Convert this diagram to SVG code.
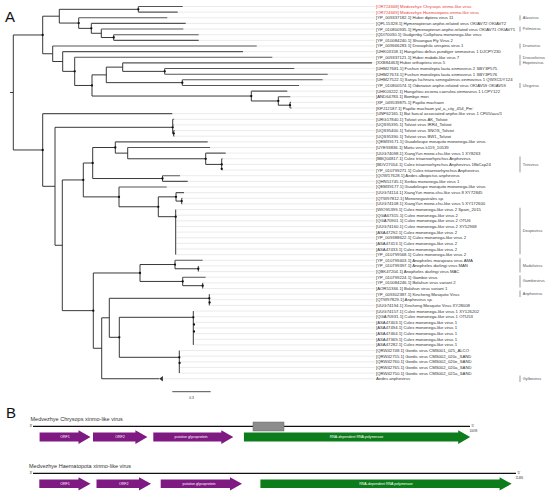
<svg xmlns="http://www.w3.org/2000/svg" width="550" height="492" viewBox="0 0 550 492">
<style>
.int{fill:none;stroke:#222;stroke-width:0.9}
.leaf{fill:none;stroke:#555;stroke-width:1.1}
.lead{fill:none;stroke:#e2e2e2;stroke-width:0.7}
.lb{font-family:"Liberation Sans",Arial,sans-serif;font-size:4.25px;fill:#333}
.red{fill:#e8413c}
.grp{font-family:"Liberation Sans",Arial,sans-serif;font-size:3.9px;fill:#555}
.bar{stroke:#999;stroke-width:1}
.big{font-family:"Liberation Sans",Arial,sans-serif;font-size:15px;fill:#111}
.tt{font-family:"Liberation Sans",Arial,sans-serif;font-size:5.5px;fill:#333}
.sm{font-family:"Liberation Sans",Arial,sans-serif;font-size:3.8px;fill:#333}
.xs{font-family:"Liberation Sans",Arial,sans-serif;font-size:2.8px;fill:#333}
.al{font-family:"Liberation Sans",Arial,sans-serif;font-size:3.6px;fill:#fff;text-anchor:middle}
.pu{fill:#7e1a82}
.gr{fill:#0c7d1a}
</style>
<defs><circle id="d" r="1.15" fill="#111"/></defs>

<text class="big" x="5" y="21.7">A</text>

<g id="connectors">
<path class="lead" d="M182.7,6.5H375M177.7,12.14H375M167.3,17.78H375M185.7,23.42H375M183.3,29.06H375M198.7,34.7H375M198.7,40.34H375M256.7,45.98H375M243,51.62H375M272.3,57.26H375M372,62.9H375M294.3,68.54H375M327.7,74.18H375M322.7,79.82H375M299,85.46H375M287.3,91.1H375M290.3,96.74H375M291,102.38H375M291.5,108.02H375M172.3,113.66H375M174.2,119.3H375M173.8,124.94H375M174.6,130.58H375M174.3,136.22H375M207.7,141.86H375M210,147.5H375M225.7,153.14H375M222.6,158.78H375M222.3,164.42H375M222.5,170.06H375M180,175.7H375M187.7,181.34H375M166.7,186.98H375M184,192.62H375M182.4,198.26H375M182.2,203.9H375M176.4,209.54H375M176.4,215.18H375M176.4,220.82H375M176.4,226.46H375M176.4,232.1H375M176.4,237.74H375M176.4,243.38H375M176.4,249.02H375M176.4,254.66H375M202.7,260.3H375M199,265.94H375M199,271.58H375M205.7,277.22H375M203.3,282.86H375M203.3,288.5H375M210,294.14H375M210,299.78H375M210,305.42H375M194,311.06H375M194,316.7H375M194,322.34H375M194,327.98H375M194,333.62H375M194,339.26H375M194,344.9H375M180,350.54H375M180,356.18H375M180,361.82H375M180,367.46H375M180,373.1H375M162.7,378.74H375"/>
<path class="int" d="M10,92.48H13.3M13.3,34.97V149.98M13.3,34.97H42.7M13.3,149.98H42.7
M42.7,16.2V53.74M42.7,16.2H59.3M42.7,53.74H52.7
M59.3,9.32V23.07M59.3,9.32H138.3M59.3,23.07H78.7
M138.3,6.5V12.14
M78.7,17.78V28.36M78.7,28.36H91.3
M91.3,23.42V33.29M91.3,33.29H101.3
M101.3,29.06V37.52M101.3,37.52H113.7
M113.7,34.7V40.34
M52.7,45.98V61.5M52.7,61.5H62.7
M62.7,51.62V71.37M62.7,71.37H74.7
M74.7,57.26V85.47M74.7,85.47H92
M92,74.89V96.04M92,74.89H106.3M92,96.04H251.3
M106.3,67.13V82.64M106.3,67.13H122.7M106.3,82.64H182.3
M122.7,62.9V71.36M122.7,71.36H164.7
M164.7,68.54V74.18M182.3,79.82V85.46
M251.3,91.1V100.97M251.3,100.97H278.3
M278.3,96.74V105.2M278.3,105.2H290M290,102.38V108.02
M42.7,113.66V186.3M42.7,186.3H55
M55,127.3V245.29M55,127.3H172.7M55,245.29H62.3
M172.7,119.3V133.4M172.7,133.4H173.7M173.7,130.58V136.22
M62.3,179.95V310.63M62.3,179.95H83.3M62.3,310.63H93.3
M83.3,163.01V196.88M83.3,163.01H92.7M83.3,196.88H119
M92.7,147.5V178.52M92.7,147.5H115.3M92.7,178.52H162.5
M115.3,141.86V153.14M115.3,153.14H127.7
M127.7,147.5V158.78M127.7,158.78H205.7
M205.7,153.14V164.42M205.7,164.42H221.7M221.7,158.78V170.06
M162.5,175.7V181.34
M119,186.98V206.78M119,206.78H158.3
M158.3,196.85V216.7M158.3,196.85H176M158.3,216.7H175.7
M176,192.62V201.08M176,201.08H181.7M181.7,198.26V203.9
M175.7,209.54V254.66
M93.3,272.99V348.27M93.3,272.99H140M93.3,348.27H101.7
M140,264.53V281.45M140,264.53H175M140,281.45H182.7
M175,260.3V268.76M175,268.76H198.3M198.3,265.94V271.58
M182.7,277.22V285.68M182.7,285.68H202.7M202.7,282.86V288.5
M101.7,317.8V378.74M101.7,317.8H109.3M101.7,378.74H159.3
M109.3,298.3V337.3M109.3,298.3H209.3M109.3,337.3H119.3
M209.3,294.14V305.42
M119.3,317.3V357.3M119.3,317.3H193.3M119.3,357.3H179.3
M193.3,311.06V344.9M179.3,350.54V373.1"/>
<path class="leaf" d="M138.3,6.5H182.7M138.3,12.14H177.7M78.7,17.78H167.3M91.3,23.42H185.7M101.3,29.06H183.3M113.7,34.7H198.7M113.7,40.34H198.7M52.7,45.98H256.7M62.7,51.62H243M74.7,57.26H272.3M122.7,62.9H372M164.7,68.54H294.3M164.7,74.18H327.7M182.3,79.82H322.7M182.3,85.46H299M251.3,91.1H287.3M278.3,96.74H290.3M290,102.38H291M290,108.02H291.5M42.7,113.66H172.3M172.7,119.3H174.2M172.7,124.94H173.8M173.7,130.58H174.6M173.7,136.22H174.3M115.3,141.86H207.7M127.7,147.5H210M205.7,153.14H225.7M221.7,158.78H222.6M221.7,164.42H222.3M221.7,170.06H222.5M162.5,175.7H180M162.5,181.34H187.7M119,186.98H166.7M176,192.62H184M181.7,198.26H182.4M181.7,203.9H182.2M175,260.3H202.7M182.7,277.22H205.7"/>
<polygon points="159.3,378.74 162.9,375.9 162.9,381.6" fill="#333"/>
<g>
<use href="#d" x="138.3" y="9.32"/><use href="#d" x="78.7" y="23.07"/><use href="#d" x="91.3" y="28.36"/><use href="#d" x="113.7" y="37.52"/>
<use href="#d" x="42.7" y="34.97"/><use href="#d" x="74.7" y="71.37"/><use href="#d" x="92" y="85.47"/><use href="#d" x="164.7" y="71.36"/>
<use href="#d" x="182.3" y="82.64"/><use href="#d" x="251.3" y="96.04"/><use href="#d" x="278.3" y="100.97"/><use href="#d" x="290" y="105.2"/>
<use href="#d" x="42.7" y="149.98"/><use href="#d" x="172.7" y="127.3"/><use href="#d" x="173.7" y="133.4"/>
<use href="#d" x="92.7" y="163.01"/><use href="#d" x="115.3" y="147.5"/><use href="#d" x="205.7" y="158.78"/><use href="#d" x="221.7" y="164.42"/><use href="#d" x="221.7" y="168.8"/>
<use href="#d" x="162.5" y="178.52"/><use href="#d" x="83.3" y="179.95"/><use href="#d" x="119" y="196.88"/><use href="#d" x="158.3" y="206.78"/>
<use href="#d" x="176" y="196.85"/><use href="#d" x="181.7" y="201.08"/><use href="#d" x="175.7" y="216.7"/>
<use href="#d" x="140" y="272.99"/><use href="#d" x="175" y="264.53"/><use href="#d" x="198.3" y="268.76"/><use href="#d" x="182.7" y="281.45"/><use href="#d" x="202.7" y="285.68"/>
<use href="#d" x="93.3" y="310.63"/><use href="#d" x="209.3" y="298.3"/><use href="#d" x="209.6" y="302.5"/><use href="#d" x="119.3" y="337.3"/>
<use href="#d" x="193.3" y="317.3"/><use href="#d" x="194" y="324.5"/><use href="#d" x="194" y="331.5"/><use href="#d" x="179.3" y="357.3"/><use href="#d" x="179.6" y="363"/>
</g>
<path d="M172.3,391.7H210.7" stroke="#222" stroke-width="0.8"/>
<text class="xs" x="191.5" y="399" text-anchor="middle" style="font-size:3.4px">0.3</text>
</g>

<g id="labels">
<text id="t1" class="lb red" x="376" y="8">[OR724668] Medvezhye Chrysops xinmo-like virus</text>
<text id="t2" class="lb red" x="376" y="13.64">[OR724669] Medvezhye Haematopota xinmo-like virus</text>
<text id="t3" class="lb" x="376" y="19.28">[YP_009337182.1] Hubei diptera virus 11</text>
<text id="t4" class="lb" x="376" y="24.92">[QPL15328.1] Hymenopteran anphe-related virus OKIAV72 OKIAV72</text>
<text id="t5" class="lb" x="376" y="30.56">[YP_010800935.1] Hymenopteran anphe-related virus OKIAV71 OKIAV71</text>
<text id="t6" class="lb" x="376" y="36.2">[QDI70030.1] Gudgenby Calliphora mononega-like virus</text>
<text id="t7" class="lb" x="376" y="41.84">[YP_010084240.1] Shuangao Fly Virus 2</text>
<text id="t8" class="lb" x="376" y="47.48">[YP_009666283.1] Drosophila unispina virus 1</text>
<text id="t9" class="lb" x="376" y="53.12">[UHK03158.1] Hangzhou deltus pundiger xinmovirus 1 DJCPY230</text>
<text id="t10" class="lb" x="376" y="58.76">[YP_009337121.1] Hubei mabdo-like virus 7</text>
<text id="t11" class="lb" x="376" y="64.4">[XXB84463] Hubei orthoptera virus 5</text>
<text id="t12" class="lb" x="376" y="70.04">[UHM27681.1] Fushun monolepta lauta xinmovirus 2 SBY3P575</text>
<text id="t13" class="lb" x="376" y="75.68">[UHM27674.1] Fushun monolepta lauta xinmovirus 1 SBY3P576</text>
<text id="t14" class="lb" x="376" y="81.32">[UHM27522.1] Sanya Ischnura senegalensis xinmovirus 1 QWXCDY124</text>
<text id="t15" class="lb" x="376" y="86.96">[YP_010800574.1] Odonatan anphe-related virus OKIAV59 OKIAV59</text>
<text id="t16" class="lb" x="376" y="92.6">[UHK03222.1] Hangzhou zicrona caerulea xinmovirus 1 LCPY122</text>
<text id="t17" class="lb" x="376" y="98.24">[AND64783.1] Bombyx mori</text>
<text id="t18" class="lb" x="376" y="103.88">[XP_049539875.1] Papilio machaon</text>
<text id="t19" class="lb" x="376" y="109.52">[KPJ12187.1] Papilio machaon yal_a_city_454_Pm'</text>
<text id="t20" class="lb" x="376" y="115.16">[UNP62165.1] Bat faecal associated anphe-like virus 1 CP05/aus/1</text>
<text id="t21" class="lb" x="376" y="120.8">[URG17840.1] Tolviot virus AK_Tolviot</text>
<text id="t22" class="lb" x="376" y="126.44">[UQS95395.1] Tolviot virus IRR4_Tolviot</text>
<text id="t23" class="lb" x="376" y="132.08">[UQS95400.1] Tolviot virus SNOS_Tolviot</text>
<text id="t24" class="lb" x="376" y="137.72">[UQS95390.1] Tolviot virus BW1_Tolviot</text>
<text id="t25" class="lb" x="376" y="143.36">[QEM39171.1] Guadeloupe mosquito mononega-like virus</text>
<text id="t26" class="lb" x="376" y="149">[UYE93836.1] Mattu virus k119_10539</text>
<text id="t27" class="lb" x="376" y="154.64">[UUG74098.1] XiangYun mono-chu-like virus 1 XY8263</text>
<text id="t28" class="lb" x="376" y="160.28">[BBQ04817.1] Culex tritaeniorhynchus Anphevirus</text>
<text id="t29" class="lb" x="376" y="165.92">[BDV27054.1] Culex tritaeniorhynchus Anphevirus 18bCxp24</text>
<text id="t30" class="lb" x="376" y="171.56">[YP_010799271.1] Culex tritaeniorhynchus Anphevirus</text>
<text id="t31" class="lb" x="376" y="177.2">[QOW17628.1] Aedes albopictus anphevirus</text>
<text id="t32" class="lb" x="376" y="182.84">[QHN51745.1] Serbia mononega-like virus 1</text>
<text id="t33" class="lb" x="376" y="188.48">[QEM39177.1] Guadeloupe mosquito mononega-like virus</text>
<text id="t34" class="lb" x="376" y="194.12">[UUG74114.1] XiangYun mono-chu-like virus 8 XY72845</text>
<text id="t35" class="lb" x="376" y="199.76">[QTW97812.1] Mononegavirales sp.</text>
<text id="t36" class="lb" x="376" y="205.4">[UUG74108.1] XiangYun mono-chu-like virus 5 XY172600</text>
<text id="t37" class="lb" x="376" y="211.04">[WIO95399.1] Culex mononega-like virus 2 Spain_2015</text>
<text id="t38" class="lb" x="376" y="216.68">[QGA67315.1] Culex mononega-like virus 2</text>
<text id="t39" class="lb" x="376" y="222.32">[QGA70901.1] Culex mononega-like virus 2 OTU6</text>
<text id="t40" class="lb" x="376" y="227.96">[UUG74160.1] Culex mononega-like virus 2 XY52968</text>
<text id="t41" class="lb" x="376" y="233.6">[ASA47292.1] Culex mononega-like virus 2</text>
<text id="t42" class="lb" x="376" y="239.24">[YP_009388622.1] Culex mononega-like virus 2</text>
<text id="t43" class="lb" x="376" y="244.88">[ASA47413.1] Culex mononega-like virus 2</text>
<text id="t44" class="lb" x="376" y="250.52">[ASA47433.1] Culex mononega-like virus 2</text>
<text id="t45" class="lb" x="376" y="256.16">[YP_010799568.1] Culex mononega-like virus 2</text>
<text id="t46" class="lb" x="376" y="261.8">[YP_010799403.1] Anopheles marajoara virus AMA</text>
<text id="t47" class="lb" x="376" y="267.44">[YP_010799397.1] Anopheles darlingi virus MAN</text>
<text id="t48" class="lb" x="376" y="273.08">[QBK47204.1] Anopheles darlingi virus MAC</text>
<text id="t49" class="lb" x="376" y="278.72">[YP_010799224.1] Gambie virus</text>
<text id="t50" class="lb" x="376" y="284.36">[YP_010084246.1] Bolahun virus variant 2</text>
<text id="t51" class="lb" x="376" y="290">[AOR51366.1] Bolahun virus variant 1</text>
<text id="t52" class="lb" x="376" y="295.64">[YP_009302387.1] Kincheng Mosquito Virus</text>
<text id="t53" class="lb" x="376" y="301.28">[QTW97829.1] Anphevirus sp.</text>
<text id="t54" class="lb" x="376" y="306.92">[UUG74194.1] Xincheng Mosquito Virus XY28008</text>
<text id="t55" class="lb" x="376" y="312.56">[UUG74157.1] Culex mononega-like virus 1 XY126202</text>
<text id="t56" class="lb" x="376" y="318.2">[QGA70931.1] Culex mononega-like virus 1 OTU53</text>
<text id="t57" class="lb" x="376" y="323.84">[ASA47403.1] Culex mononega-like virus 1</text>
<text id="t58" class="lb" x="376" y="329.48">[ASA47494.1] Culex mononega-like virus 1</text>
<text id="t59" class="lb" x="376" y="335.12">[ASA47464.1] Culex mononega-like virus 1</text>
<text id="t60" class="lb" x="376" y="340.76">[ASA47369.1] Culex mononega-like virus 1</text>
<text id="t61" class="lb" x="376" y="346.4">[ASA47282.1] Culex mononega-like virus 1</text>
<text id="t62" class="lb" x="376" y="352.04">[QRW42748.1] Gordis virus CMS001_025_ALCO</text>
<text id="t63" class="lb" x="376" y="357.68">[QRW42755.1] Gordis virus CMS002_020c_SAND</text>
<text id="t64" class="lb" x="376" y="363.32">[QRW42760.1] Gordis virus CMS002_020e_SAND</text>
<text id="t65" class="lb" x="376" y="368.96">[QRW42765.1] Gordis virus CMS002_020a_SAND</text>
<text id="t66" class="lb" x="376" y="374.6">[QRW42750.1] Gordis virus CMS002_021a_SAND</text>
<text id="t67" class="lb" x="376" y="380.24">Aedes anphevirus</text>
</g>

<g id="genera">
<path class="bar" d="M520,15.3V20.3M520,26.6V31.6M520,43.5V48.5M520,54.8V59.8M520,60.4V65.4M520,83V88M520,156.5V172.3M520,207.7V254.3M520,258.3V272.5M520,275.3V287.5M520,290.5V297M520,375.5V382"/>
<text class="grp" x="522.8" y="19.1">Alasvirus</text>
<text class="grp" x="522.8" y="30.4">Pelmivirus</text>
<text class="grp" x="522.8" y="47.3">Drunivirus</text>
<text class="grp" x="522.8" y="58.6">Drosvelivirus</text>
<text class="grp" x="522.8" y="64.2">Hopetevirus</text>
<text class="grp" x="522.8" y="86.8">Ulegvirus</text>
<text class="grp" x="522.8" y="165.8">Trinivirus</text>
<text class="grp" x="522.8" y="231.8">Doupovirus</text>
<text class="grp" x="522.8" y="266.8">Madalivirus</text>
<text class="grp" x="522.8" y="282.3">Gambievirus</text>
<text class="grp" x="522.8" y="295.4">Anphevirus</text>
<text class="grp" x="522.8" y="380">Gylbovirus</text>
</g>

<text class="big" x="6" y="417.5">B</text>

<g id="genome1">
<text class="tt" x="30.5" y="421.3">Medvezhye Chrysops  xinmo-like virus</text>
<text class="sm" x="29.5" y="427">3'</text>
<path d="M33,426.3H470" stroke="#111" stroke-width="1.3"/>
<rect x="253" y="422" width="31" height="9" fill="#8c8c8c" stroke="#6a6a6a" stroke-width="0.5"/>
<text class="sm" x="471.5" y="426.5">5'</text>
<text class="xs" x="469.5" y="431.5">10098</text>
<polygon class="pu" points="39.6,432.6 78.5,432.6 78.5,430.2 90.5,437.1 78.5,444 78.5,441.6 39.6,441.6"/>
<polygon class="pu" points="93,432.6 135.4,432.6 135.4,430.2 147.4,437.1 135.4,444 135.4,441.6 93,441.6"/>
<polygon class="pu" points="153.3,432.6 221.3,432.6 221.3,430.2 233.3,437.1 221.3,444 221.3,441.6 153.3,441.6"/>
<polygon class="gr" points="243.9,432.6 458.2,432.6 458.2,430.2 470.2,437.1 458.2,444 458.2,441.6 243.9,441.6"/>
<text class="al" x="65" y="438.4">ORF1</text>
<text class="al" x="120" y="438.4">ORF2</text>
<text class="al" x="191" y="438.4">putative glycoprotein</text>
<text class="al" x="356.5" y="438.4">RNA-dependent RNA polymerase</text>
</g>

<g id="genome2">
<text class="tt" x="29" y="467.8">Medvezhye Haematopota xinmo-like virus</text>
<text class="sm" x="29.5" y="474">3'</text>
<path d="M33,473.3H516" stroke="#111" stroke-width="1.3"/>
<text class="sm" x="517.5" y="473.5">5'</text>
<text class="xs" x="515.5" y="478.5">11486</text>
<polygon class="pu" points="39.3,479.6 78.5,479.6 78.5,477.2 90.5,483.85 78.5,490.5 78.5,488.1 39.3,488.1"/>
<polygon class="pu" points="96.5,479.6 139,479.6 139,477.2 151,483.85 139,490.5 139,488.1 96.5,488.1"/>
<polygon class="pu" points="160.7,479.6 230,479.6 230,477.2 242,483.85 230,490.5 230,488.1 160.7,488.1"/>
<polygon class="gr" points="260.4,479.6 499.6,479.6 499.6,477.2 511.6,483.85 499.6,490.5 499.6,488.1 260.4,488.1"/>
<text class="al" x="65" y="485.1">ORF1</text>
<text class="al" x="123.7" y="485.1">ORF2</text>
<text class="al" x="199" y="485.1">putative glycoprotein</text>
<text class="al" x="386" y="485.1">RNA-dependent RNA polymerase</text>
</g>
</svg>
